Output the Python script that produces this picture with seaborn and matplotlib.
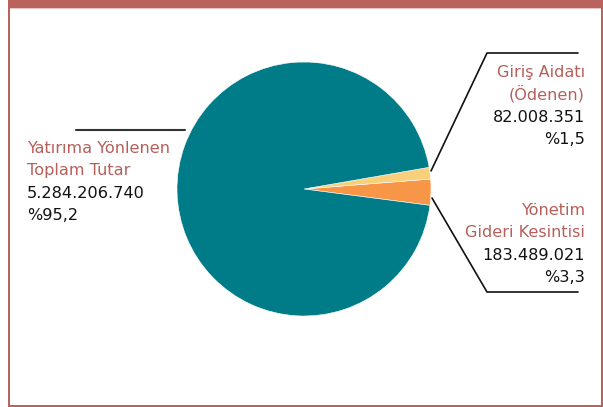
import numpy as np
import pandas as pd
import matplotlib.pyplot as plt
from matplotlib.patches import Rectangle
import seaborn as sns

sns.set_theme(style='white')
plt.rcParams['font.family'] = ['DejaVu Sans']

# Data (pie order: starts just below 3 o'clock, goes counter-clockwise)
categories = ['Yönetim Gideri Kesintisi', 'Giriş Aidatı (Ödenen)', 'Yatırıma Yönlenen Toplam Tutar']
amounts = [183489021, 82008351, 5284206740]
amount_labels = ['183.489.021', '82.008.351', '5.284.206.740']
pct_labels = ['%3,3', '%1,5', '%95,2']
name_lines = [['Yönetim', 'Gideri Kesintisi'],
              ['Giriş Aidatı', '(Ödenen)'],
              ['Yatırıma Yönlenen', 'Toplam Tutar']]
colors = ['#F79646', '#F9CF7A', '#007C89']

df = pd.DataFrame({'category': categories, 'amount': amounts})

W, H = 603, 407
FRAME = '#B9625E'
NAME_COLOR = '#B5605B'
FS = 11.6
LINE = 22.3

fig = plt.figure(figsize=(W / 100, H / 100), dpi=100)

# overlay axes in pixel coords for frame, leader lines and labels
bg = fig.add_axes([0, 0, 1, 1])
bg.set_xlim(0, W)
bg.set_ylim(H, 0)
bg.axis('off')

# pie axes
cx, cy, r = 304, 189, 127
ax = fig.add_axes([(cx - r) / W, (H - cy - r) / H, 2 * r / W, 2 * r / H])
ax.pie(df['amount'], colors=colors, startangle=-7.4, counterclock=True,
       wedgeprops=dict(linewidth=0.4, edgecolor='white'))
ax.set_xlim(-1, 1)
ax.set_ylim(-1, 1)
ax.set_aspect('equal')
ax.axis('off')

# frame
bg.add_patch(Rectangle((8, 0), W - 8, 7.5, color=FRAME, lw=0))
bg.add_patch(Rectangle((8, 7.5), W - 8, 1, color='#E8C4C2', lw=0))
bg.add_patch(Rectangle((8, 0), 2, H, color=FRAME, lw=0))
bg.add_patch(Rectangle((W - 2, 0), 2, H, color=FRAME, lw=0))
bg.add_patch(Rectangle((8, H - 2.5), W - 8, 2.5, color=FRAME, lw=0))

# leader lines
bg.plot([431, 487, 578], [171, 53, 53], color='#111111', lw=1.2)
bg.plot([432, 487, 578], [198, 292, 292], color='#111111', lw=1.2)
bg.plot([76, 185], [130, 130], color='#333333', lw=1.5)

# labels
blocks = [(585, 'right', 215), (585, 'right', 77), (27, 'left', 153)]
for i, (x, ha, y0) in enumerate(blocks):
    lines = name_lines[i] + [amount_labels[i], pct_labels[i]]
    for j, txt in enumerate(lines):
        col = NAME_COLOR if j < 2 else '#111111'
        bg.text(x, y0 + j * LINE, txt, ha=ha, va='baseline', fontsize=FS, color=col)

plt.savefig('out.png', dpi=100)
plt.close()
